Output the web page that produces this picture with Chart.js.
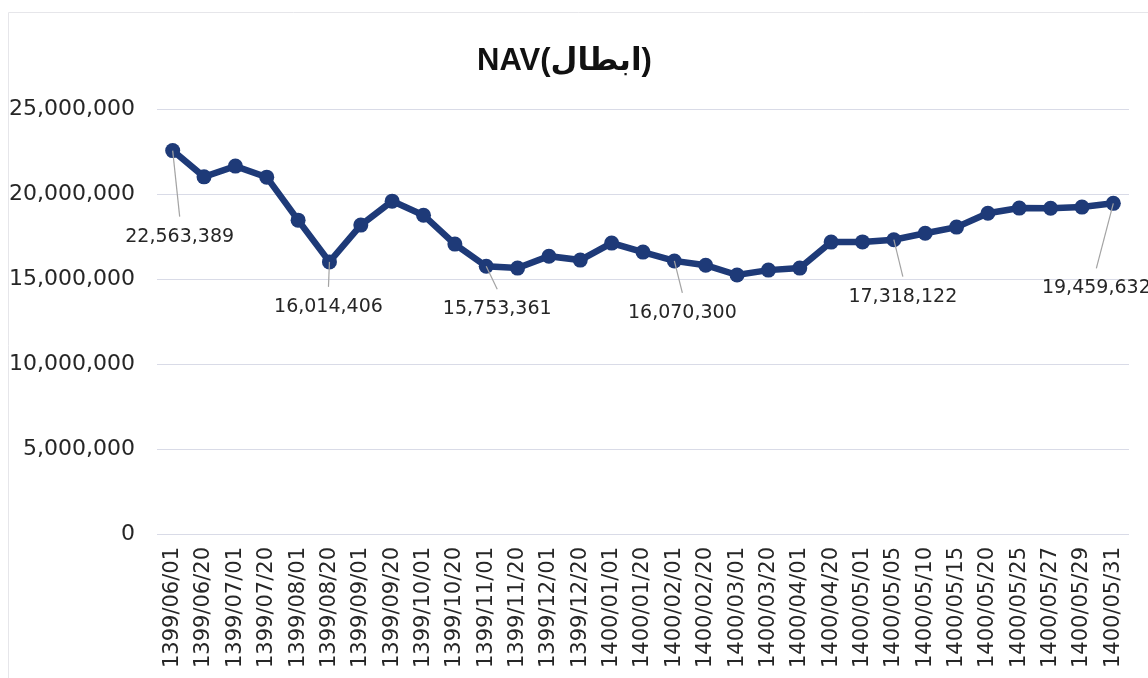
<!DOCTYPE html>
<html>
<head>
<meta charset="utf-8">
<title>NAV(ابطال)</title>
<script src="https://cdn.jsdelivr.net/npm/chart.js@4.4.1/dist/chart.umd.min.js"></script>
<style>
    html, body { margin: 0; padding: 0; background: #ffffff; }
    #wrap { width: 1148px; height: 678px; position: relative; }
</style>
</head>
<body>
<div id="wrap"><canvas id="navChart"></canvas></div>
<script>
// Dates (Solar Hijri) along the x axis
const dateLabels = [
    '1399/06/01', '1399/06/20', '1399/07/01', '1399/07/20', '1399/08/01', '1399/08/20',
    '1399/09/01', '1399/09/20', '1399/10/01', '1399/10/20', '1399/11/01', '1399/11/20',
    '1399/12/01', '1399/12/20', '1400/01/01', '1400/01/20', '1400/02/01', '1400/02/20',
    '1400/03/01', '1400/03/20', '1400/04/01', '1400/04/20', '1400/05/01', '1400/05/05',
    '1400/05/10', '1400/05/15', '1400/05/20', '1400/05/25', '1400/05/27', '1400/05/29',
    '1400/05/31'
];

// NAV values (labelled ones exact, rest)
const navValues = [
    22563389, 21020000, 21650000, 21000000, 18470000, 16014406,
    18180000, 19590000, 18760000, 17060000, 15753361, 15650000,
    16350000, 16120000, 17120000, 16590000, 16070300, 15820000,
    15240000, 15530000, 15650000, 17180000, 17190000, 17318122,
    17700000, 18060000, 18880000, 19180000, 19170000, 19240000,
    19459632
];

// Y axis ticks
const yTicks = [0, 5000000, 10000000, 15000000, 20000000, 25000000];

// Points that carry a value label
const labelledIndexes = [0, 5, 10, 16, 23, 30];

const fmt = v => Math.round(v).toLocaleString('en-US');

// Callout labels with grey leader lines (offset of label centre from the point)
const calloutPlugin = {
    id: 'callouts',
    afterDatasetsDraw(chart, args, opts) {
        const ctx = chart.ctx;
        const meta = chart.getDatasetMeta(0);
        ctx.save();
        ctx.font = opts.font;
        ctx.textAlign = 'center';
        ctx.textBaseline = 'middle';
        labelledIndexes.forEach((idx, i) => {
            const pt = meta.data[idx];
            const off = opts.offsets[i];
            const lx = pt.x + off[0];
            const ly = pt.y + off[1];
            ctx.strokeStyle = '#a3a3a3';
            ctx.lineWidth = 1.2;
            ctx.beginPath();
            ctx.moveTo(pt.x, pt.y);
            ctx.lineTo(lx, ly - 20);
            ctx.stroke();
            ctx.fillStyle = '#262626';
            ctx.fillText(fmt(navValues[idx]), lx, ly);
        });
        ctx.restore();
    }
};

// Faint frame like the original chart border
const framePlugin = {
    id: 'frame',
    beforeDraw(chart) {
        const ctx = chart.ctx;
        ctx.save();
        ctx.strokeStyle = '#e6e6ea';
        ctx.lineWidth = 1;
        ctx.beginPath();
        ctx.moveTo(8.5, chart.height);
        ctx.lineTo(8.5, 12.5);
        ctx.lineTo(chart.width, 12.5);
        ctx.stroke();
        ctx.restore();
    }
};

const ctx = document.getElementById('navChart').getContext('2d');
new Chart(ctx, {
    type: 'line',
    data: {
        labels: dateLabels,
        datasets: [{
            label: 'NAV',
            data: navValues,
            borderColor: '#1e3a78',
            backgroundColor: '#1e3a78',
            borderWidth: 6.5,
            pointRadius: 7.5,
            pointBorderWidth: 0,
            pointBackgroundColor: '#1e3a78',
            tension: 0,
            fill: false
        }]
    },
    options: {
        responsive: true,
        maintainAspectRatio: false,
        animation: false,
        layout: { padding: { left: 0, right: 19, top: 0, bottom: 0 } },
        scales: {
            x: {
                offset: true,
                grid: { display: false },
                border: { display: false },
                ticks: {
                    autoSkip: false,
                    minRotation: 90,
                    maxRotation: 90,
                    padding: 5,
                    color: '#262626',
                    font: { family: "'DejaVu Sans'", size: 21 }
                },
                afterFit(scale) { scale.height = 144; }
            },
            y: {
                min: 0,
                max: 25000000,
                afterBuildTicks(scale) { scale.ticks = yTicks.map(v => ({ value: v })); },
                grid: { color: '#d9dbe7', lineWidth: 1, drawTicks: false },
                border: { display: false },
                ticks: {
                    padding: 22,
                    color: '#262626',
                    font: { family: "'DejaVu Sans'", size: 22 },
                    callback: v => fmt(v)
                },
                afterFit(scale) { scale.width = 157; }
            }
        },
        plugins: {
            legend: { display: false },
            tooltip: { enabled: false },
            title: {
                display: true,
                text: 'NAV(ابطال)',
                color: '#111111',
                font: { family: "'Liberation Sans Narrow', 'Liberation Sans', 'DejaVu Sans'", size: 31, weight: 'bold' },
                padding: { top: 43, bottom: 29 }
            },
            callouts: {
                font: "19px 'DejaVu Sans'",
                offsets: [[7, 86], [-1, 45], [11, 43], [8, 52], [9, 57], [-17, 85]]
            }
        }
    },
    plugins: [calloutPlugin, framePlugin]
});
</script>
</body>
</html>
